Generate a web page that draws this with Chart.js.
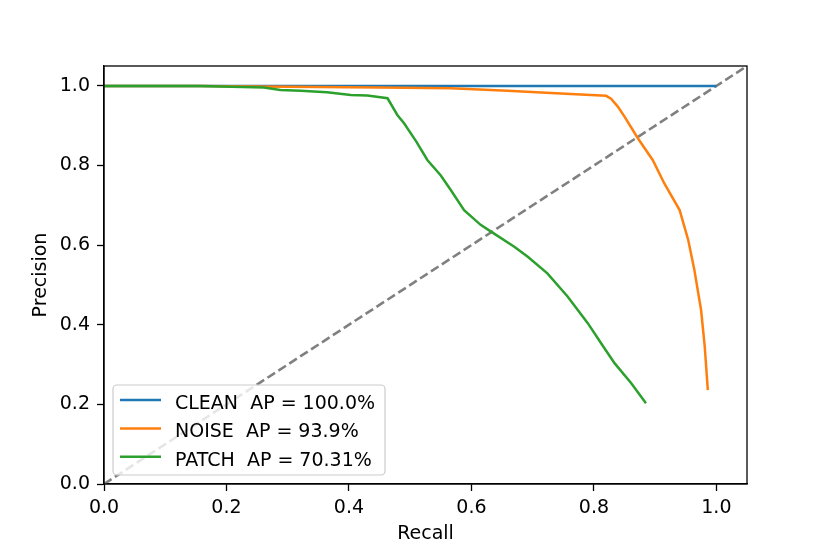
<!DOCTYPE html>
<html>
<head>
<meta charset="utf-8">
<script src="https://cdn.jsdelivr.net/npm/chart.js@4/dist/chart.umd.min.js"></script>
<style>
  html, body { margin: 0; padding: 0; background: #ffffff; }
  #wrap { width: 830px; height: 554px; }
</style>
</head>
<body>
<div id="wrap"><canvas id="c" width="830" height="554"></canvas></div>
<script>
// ---- data ----
const seriesLabels = ['CLEAN  AP = 100.0%', 'NOISE  AP = 93.9%', 'PATCH  AP = 70.31%'];
const seriesColors = ['#1f77b4', '#ff7f0e', '#2ca02c'];

const cleanRecall    = [0, 0.25, 0.5, 0.75, 1.0];
const cleanPrecision = [1.0, 1.0, 1.0, 1.0, 1.0];

const noiseRecall    = [0, 0.157, 0.3, 0.45, 0.566, 0.659, 0.73, 0.795, 0.82, 0.828, 0.839, 0.85, 0.872, 0.896, 0.915, 0.94, 0.954, 0.964, 0.975, 0.981, 0.986];
const noisePrecision = [1.0, 1.0, 0.998, 0.996, 0.994, 0.988, 0.982, 0.977, 0.975, 0.968, 0.948, 0.923, 0.868, 0.814, 0.755, 0.688, 0.613, 0.538, 0.437, 0.345, 0.236];

const patchRecall    = [0, 0.157, 0.261, 0.288, 0.321, 0.364, 0.403, 0.43, 0.463, 0.479, 0.49, 0.51, 0.528, 0.55, 0.566, 0.588, 0.615, 0.632, 0.67, 0.692, 0.724, 0.757, 0.79, 0.812, 0.834, 0.861, 0.885];
const patchPrecision = [1.0, 1.0, 0.996, 0.99, 0.988, 0.984, 0.977, 0.976, 0.969, 0.927, 0.906, 0.86, 0.814, 0.775, 0.739, 0.688, 0.651, 0.634, 0.596, 0.571, 0.529, 0.471, 0.404, 0.353, 0.303, 0.253, 0.203];

const diagRecall    = [0, 1.05];
const diagPrecision = [0, 1.05];

const axisMin = 0, axisMax = 1.05, tickStep = 0.2;
const xTitle = 'Recall', yTitle = 'Precision';

// ---- build ----
const pts = (xs, ys) => xs.map((x, i) => ({x: x, y: ys[i]}));
const FONT = 'DejaVu Sans';

const frameAndLegend = {
  id: 'frameAndLegend',
  afterDraw(chart) {
    const ctx = chart.ctx, a = chart.chartArea;
    ctx.save();
    // full axes frame
    ctx.strokeStyle = '#000';
    ctx.lineWidth = 1.3;
    ctx.strokeRect(a.left, a.top, a.right - a.left, a.bottom - a.top);
    // legend box
    const bx = 113, by = 385, bw = 272, bh = 90, r = 4;
    ctx.beginPath();
    ctx.moveTo(bx + r, by);
    ctx.arcTo(bx + bw, by, bx + bw, by + bh, r);
    ctx.arcTo(bx + bw, by + bh, bx, by + bh, r);
    ctx.arcTo(bx, by + bh, bx, by, r);
    ctx.arcTo(bx, by, bx + bw, by, r);
    ctx.closePath();
    ctx.fillStyle = 'rgba(255,255,255,0.8)';
    ctx.fill();
    ctx.strokeStyle = '#cccccc';
    ctx.lineWidth = 1.2;
    ctx.stroke();
    ctx.font = '19px "' + FONT + '"';
    ctx.textBaseline = 'alphabetic';
    ctx.textAlign = 'left';
    for (let i = 0; i < seriesLabels.length; i++) {
      const ly = 400 + i * 28.4;
      ctx.beginPath();
      ctx.moveTo(120, ly);
      ctx.lineTo(161, ly);
      ctx.strokeStyle = seriesColors[i];
      ctx.lineWidth = 2.5;
      ctx.stroke();
      ctx.fillStyle = '#000';
      ctx.fillText(seriesLabels[i], 175, ly + 9);
    }
    ctx.restore();
  }
};

const tickFont = {family: FONT, size: 19};

new Chart(document.getElementById('c'), {
  type: 'scatter',
  data: {
    datasets: [
      {label: seriesLabels[0], data: pts(cleanRecall, cleanPrecision), showLine: true, borderColor: seriesColors[0], borderWidth: 2.5, pointRadius: 0, order: 3},
      {label: seriesLabels[1], data: pts(noiseRecall, noisePrecision), showLine: true, borderColor: seriesColors[1], borderWidth: 2.5, pointRadius: 0, order: 2},
      {label: seriesLabels[2], data: pts(patchRecall, patchPrecision), showLine: true, borderColor: seriesColors[2], borderWidth: 2.5, pointRadius: 0, order: 1},
      {label: 'diag', data: pts(diagRecall, diagPrecision), showLine: true, borderColor: '#808080', borderWidth: 2.6, borderDash: [9, 4], pointRadius: 0, order: 4}
    ]
  },
  options: {
    responsive: false,
    animation: false,
    layout: {padding: {left: 0, top: 66, right: 83, bottom: 0}},
    plugins: {legend: {display: false}, tooltip: {enabled: false}},
    scales: {
      x: {
        type: 'linear', min: axisMin, max: axisMax,
        afterFit(s) { s.height = 70; },
        ticks: {stepSize: tickStep, includeBounds: false, color: '#000', font: tickFont, padding: 6, maxRotation: 0,
                callback: v => v.toFixed(1)},
        grid: {display: true, drawOnChartArea: false, drawTicks: true, tickLength: 7, tickColor: '#000', tickWidth: 1.3},
        border: {display: true, color: '#000', width: 1.3},
        title: {display: true, text: xTitle, color: '#000', font: tickFont, padding: {top: 0, bottom: 9}}
      },
      y: {
        type: 'linear', min: axisMin, max: axisMax,
        afterFit(s) { s.width = 104; },
        ticks: {stepSize: tickStep, includeBounds: false, color: '#000', font: tickFont, padding: 7,
                callback: v => v.toFixed(1)},
        grid: {display: true, drawOnChartArea: false, drawTicks: true, tickLength: 7, tickColor: '#000', tickWidth: 1.3},
        border: {display: true, color: '#000', width: 1.3},
        title: {display: true, text: yTitle, color: '#000', font: tickFont, padding: {top: 30, bottom: 0}}
      }
    }
  },
  plugins: [frameAndLegend]
});
</script>
</body>
</html>
